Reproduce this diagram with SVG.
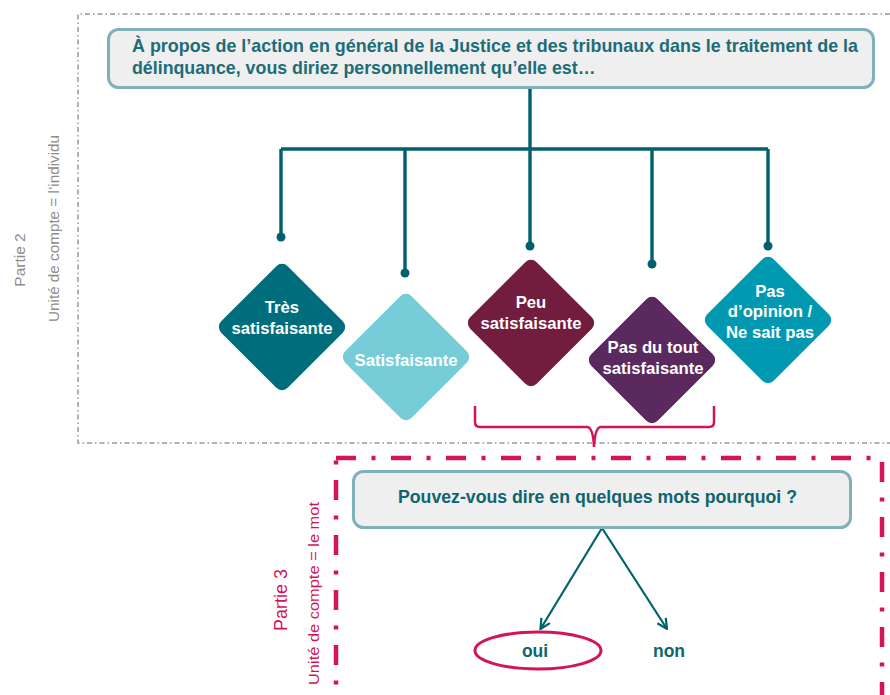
<svg xmlns="http://www.w3.org/2000/svg" width="890" height="695" viewBox="0 0 890 695">
<style>
text{font-family:"Liberation Sans",Arial,sans-serif}
.q{fill:#efefef;stroke:#80b1b9;stroke-width:3}
.qt{font-weight:bold;font-size:17.8px;fill:#1b6d78}
.dt{font-weight:bold;font-size:16.7px;fill:#fff;text-anchor:middle}
.tree{fill:none;stroke:#00606e;stroke-width:3.4}
.dot{fill:#00606e}
.arr{fill:none;stroke:#00606e;stroke-width:2.2}
.pink{fill:none;stroke:#d3145a}
.ans{font-weight:bold;font-size:17.5px;fill:#0e6570;text-anchor:middle}
</style>
<defs>
<marker id="ah" viewBox="0 0 12 12" refX="11" refY="6" markerWidth="12" markerHeight="12" markerUnits="userSpaceOnUse" orient="auto">
<path d="M1,1 L11,6 L1,11" fill="none" stroke="#00606e" stroke-width="2.2"/>
</marker>
</defs>
<rect width="890" height="695" fill="#fff"/>

<g id="frame-partie2">
<path d="M890,14 H78 V443 H890" fill="none" stroke="#989898" stroke-width="1.5" stroke-dasharray="5 3 1.5 3"/>
<text transform="translate(25,260) rotate(-90)" text-anchor="middle" font-size="15.5" fill="#8c8c8c">Partie  2</text>
<text transform="translate(59,228.5) rotate(-90)" text-anchor="middle" font-size="15" fill="#8c8c8c" textLength="187" lengthAdjust="spacingAndGlyphs">Unité de compte = l’individu</text>
</g>

<g id="frame-partie3">
<rect x="336" y="458" width="546" height="300" class="pink" stroke-width="4.5" stroke-dasharray="20 15.5 4 15.5"/>
<text transform="translate(287,600) rotate(-90)" text-anchor="middle" font-size="18" fill="#d3145a">Partie  3</text>
<text transform="translate(319,593.5) rotate(-90)" text-anchor="middle" font-size="15.5" fill="#d3145a" textLength="183" lengthAdjust="spacingAndGlyphs">Unité de compte = le mot</text>
</g>

<g id="connectors">
<path class="tree" d="M530,88 V149 M281,149 H768 M281,149 V237 M405,149 V273 M530,149 V246 M652,149 V264 M768,149 V246"/>
<circle class="dot" cx="281" cy="237" r="4.5"/>
<circle class="dot" cx="405" cy="273" r="4.5"/>
<circle class="dot" cx="530" cy="246" r="4.5"/>
<circle class="dot" cx="652" cy="264" r="4.5"/>
<circle class="dot" cx="768" cy="246" r="4.5"/>
<path class="pink" stroke-width="2.5" d="M475,406 V422 Q475,427 480,427 H587 Q593,427 594,447 Q595,427 601,427 H709 Q714,427 714,422 V406"/>
<line class="arr" x1="602" y1="528" x2="540.5" y2="629" marker-end="url(#ah)"/>
<line class="arr" x1="602" y1="528" x2="667" y2="629" marker-end="url(#ah)"/>
</g>

<g id="q1">
<rect class="q" x="108.5" y="29.5" width="765" height="58" rx="10"/>
<text class="qt" x="132" y="52" textLength="726" lengthAdjust="spacingAndGlyphs">À propos de l’action en général de la Justice et des tribunaux dans le traitement de la</text>
<text class="qt" x="132" y="73.5">délinquance, vous diriez personnellement qu’elle est…</text>
</g>

<g id="d1">
<rect x="-47" y="-47" width="94" height="94" rx="8" fill="#006d7c" transform="translate(282,327) rotate(45)"/>
<text class="dt" x="282" y="313">Très</text>
<text class="dt" x="282" y="334">satisfaisante</text>
</g>
<g id="d2">
<rect x="-47" y="-47" width="94" height="94" rx="8" fill="#76cdd8" transform="translate(406,357) rotate(45)"/>
<text class="dt" x="406" y="366">Satisfaisante</text>
</g>
<g id="d3">
<rect x="-47" y="-47" width="94" height="94" rx="8" fill="#721c3e" transform="translate(531,323) rotate(45)"/>
<text class="dt" x="531" y="308">Peu</text>
<text class="dt" x="531" y="329">satisfaisante</text>
</g>
<g id="d4">
<rect x="-47" y="-47" width="94" height="94" rx="8" fill="#5a2a5e" transform="translate(652,360) rotate(45)"/>
<text class="dt" x="653" y="353">Pas du tout</text>
<text class="dt" x="653" y="374">satisfaisante</text>
</g>
<g id="d5">
<rect x="-47" y="-47" width="94" height="94" rx="8" fill="#0099b1" transform="translate(768,320) rotate(45)"/>
<text class="dt" x="770" y="297">Pas</text>
<text class="dt" x="770" y="317">d’opinion /</text>
<text class="dt" x="770" y="338">Ne sait pas</text>
</g>

<g id="q2">
<rect class="q" x="353.5" y="471.5" width="497" height="56" rx="10"/>
<text x="597.5" y="503" font-weight="bold" font-size="17.8" fill="#0e6570" text-anchor="middle" textLength="399" lengthAdjust="spacingAndGlyphs">Pouvez-vous dire en quelques mots pourquoi ?</text>
</g>

<g id="oui">
<ellipse cx="538" cy="650.5" rx="63" ry="18.5" class="pink" stroke-width="3"/>
<text class="ans" x="535" y="657">oui</text>
</g>
<g id="non">
<text class="ans" x="669" y="657">non</text>
</g>
</svg>
